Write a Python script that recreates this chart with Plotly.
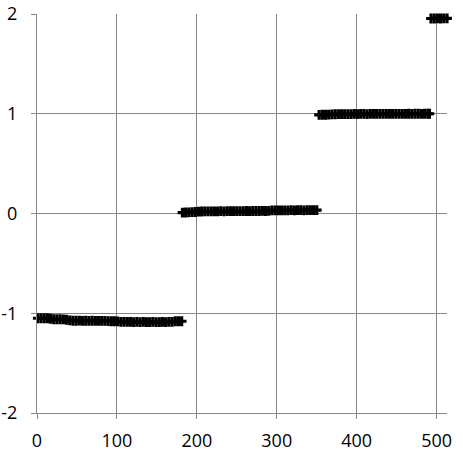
import plotly.graph_objects as go

# segment 1 (around -1)
x1 = [1, 5, 9, 13, 17, 21, 25, 29, 33, 37, 41, 45, 49, 53, 57, 61, 65, 69, 73, 77,
      81, 85, 89, 93, 97, 101, 105, 109, 113, 117, 121, 125, 129, 133, 137, 141, 145,
      149, 153, 157, 161, 165, 169, 173, 177, 181]
y1 = [-1.05, -1.05, -1.05, -1.05, -1.055, -1.06, -1.06, -1.06, -1.062, -1.065, -1.072,
      -1.075, -1.075, -1.074, -1.076, -1.075, -1.076, -1.075, -1.077, -1.076, -1.077,
      -1.077, -1.078, -1.08, -1.08, -1.082, -1.086, -1.087, -1.086, -1.087, -1.088,
      -1.087, -1.088, -1.087, -1.088, -1.088, -1.087, -1.088, -1.088, -1.087, -1.088,
      -1.087, -1.086, -1.08, -1.08, -1.08]

# segment 2 (around 0)
x2 = [182, 186, 190, 194, 198, 202, 206, 210, 214, 218, 222, 226, 230, 234, 238, 242,
      246, 250, 254, 258, 262, 266, 270, 274, 278, 282, 286, 290, 294, 298, 302, 306,
      310, 314, 318, 322, 326, 330, 334, 338, 342, 346, 350]
y2 = [0.008, 0.01, 0.012, 0.013, 0.015, 0.018, 0.02, 0.021, 0.021, 0.022, 0.022, 0.022,
      0.023, 0.022, 0.023, 0.023, 0.024, 0.023, 0.024, 0.024, 0.025, 0.024, 0.025, 0.025,
      0.025, 0.026, 0.025, 0.026, 0.031, 0.032, 0.032, 0.031, 0.032, 0.032, 0.033, 0.032,
      0.033, 0.033, 0.032, 0.033, 0.033, 0.033, 0.033]

# segment 3 (around 1)
x3 = [353, 357, 361, 365, 369, 373, 377, 381, 385, 389, 393, 397, 401, 405, 409, 413,
      417, 421, 425, 429, 433, 437, 441, 445, 449, 453, 457, 461, 465, 469, 473, 477,
      481, 485, 489, 491]
y3 = [0.988, 0.99, 0.99, 0.992, 0.994, 0.995, 0.996, 0.996, 0.997, 0.997, 0.997, 0.998,
      0.997, 0.998, 0.998, 0.997, 0.998, 0.998, 0.998, 0.999, 0.998, 0.999, 0.999, 0.998,
      0.999, 0.999, 0.999, 0.999, 1.0, 0.999, 1.0, 1.0, 0.999, 1.0, 1.0, 1.0]

# segment 4 (near 2)
x4 = [493, 497, 501, 505, 509, 513]
y4 = [1.955, 1.955, 1.956, 1.955, 1.956, 1.956]

xticks = [0, 100, 200, 300, 400, 500]
yticks = [-2, -1, 0, 1, 2]
ylabels = ["-2", "-1", "0", "1", "2"]

xs = x1 + x2 + x3 + x4
ys = y1 + y2 + y3 + y4

fig = go.Figure()
fig.add_trace(go.Scatter(
    x=xs, y=ys, mode="markers", cliponaxis=False,
    marker=dict(symbol="cross-thin", size=7,
                line=dict(color="black", width=3.2)),
))

grid = "#868686"
fig.update_layout(
    width=463, height=452,
    margin=dict(l=37, r=16, t=14, b=39),
    paper_bgcolor="white", plot_bgcolor="white",
    showlegend=False,
    font=dict(family="Open Sans", size=18, color="black"),
)
fig.update_xaxes(
    range=[0, 513], tickvals=xticks, automargin=False,
    showgrid=True, gridcolor=grid, gridwidth=1,
    showline=True, linecolor=grid, linewidth=1,
    ticks="outside", ticklen=5, tickcolor=grid,
    zeroline=False, ticklabelstandoff=6,
)
fig.update_yaxes(
    range=[-2, 2], tickvals=yticks, ticktext=ylabels, automargin=False,
    showgrid=True, gridcolor=grid, gridwidth=1,
    showline=True, linecolor=grid, linewidth=1,
    ticks="outside", ticklen=5, tickcolor=grid,
    zeroline=False, ticklabelstandoff=10,
)

# drop the page's default body margin so the chart sits at the corner
fig.write_html("out.html", config={"displayModeBar": False},
               post_script="document.body.style.margin='0';")
